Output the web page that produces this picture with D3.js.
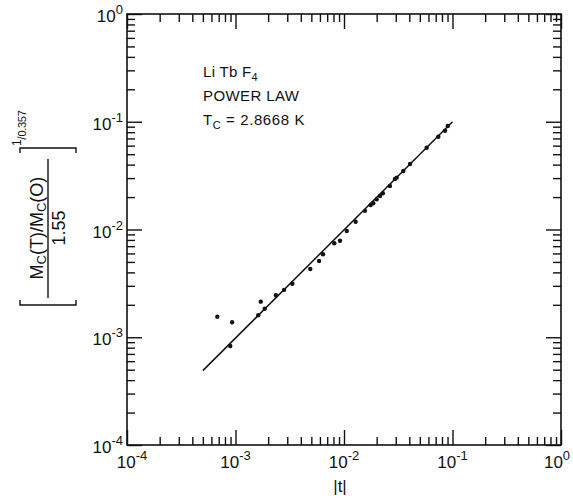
<!DOCTYPE html>
<html>
<head>
<meta charset="utf-8">
<script src="https://cdn.jsdelivr.net/npm/d3@7"></script>
<style>
  body { margin: 0; background: #fff; }
  svg text { font-family: "Liberation Sans", Arial, sans-serif; fill: #111; }
</style>
</head>
<body>
<script>
// reduced temperature |t| and scaled magnetisation
const tVals = [6.8e-4, 9.3e-4, 8.95e-4, 1.62e-3, 1.71e-3, 1.86e-3, 2.36e-3, 2.8e-3, 3.34e-3,
  4.89e-3, 5.89e-3, 6.4e-3, 8.14e-3, 9.19e-3, 1.06e-2, 1.28e-2, 1.56e-2, 1.76e-2, 1.86e-2,
  2.0e-2, 2.15e-2, 2.28e-2, 2.65e-2, 2.95e-2, 3.06e-2, 3.52e-2, 4.06e-2, 5.78e-2, 7.4e-2,
  8.53e-2, 9.04e-2]
const mVals = [1.55e-3, 1.38e-3, 8.3e-4, 1.6e-3, 2.14e-3, 1.84e-3, 2.45e-3, 2.75e-3, 3.14e-3,
  4.3e-3, 5.1e-3, 5.89e-3, 7.45e-3, 7.87e-3, 9.69e-3, 1.18e-2, 1.49e-2, 1.69e-2, 1.75e-2,
  1.91e-2, 2.05e-2, 2.17e-2, 2.53e-2, 2.94e-2, 3.03e-2, 3.49e-2, 4.05e-2, 5.74e-2, 7.26e-2,
  8.26e-2, 9.14e-2]

// fitted power law line
const fitT = [5e-4, 0.1]
const fitM = [4.9e-4, 0.1]

// axis decades and their exponent labels
const decades = [1e-4, 1e-3, 1e-2, 1e-1, 1]
const expLabels = ["-4", "-3", "-2", "-1", "0"]

const w = 573
const h = 498
const padL = 127, padR = 561, padT = 14, padB = 445

const svg = d3.select("body")
  .append("svg")
  .attr("width", w)
  .attr("height", h)

const x = d3.scaleLog().domain([1e-4, 1]).range([padL, padR])
const y = d3.scaleLog().domain([1e-4, 1]).range([padB, padT])

// minor ticks 2..9 in each decade
const minor = []
decades.slice(0, -1).forEach(d => {
  for (let k = 2; k <= 9; k++) minor.push(d * k)
})

const major = 15
const small = 8

// ticks point inward on all four sides
function addAxis(axisFn, scale, values, size, transform) {
  svg.append("g")
    .attr("transform", transform)
    .call(axisFn(scale).tickValues(values).tickSizeInner(-size).tickSizeOuter(0).tickFormat(""))
    .call(g => g.select(".domain").remove())
    .selectAll("line")
    .attr("stroke", "#111")
    .attr("stroke-width", 1.4)
}

addAxis(d3.axisBottom, x, decades, major, `translate(0,${padB})`)
addAxis(d3.axisBottom, x, minor, small, `translate(0,${padB})`)
addAxis(d3.axisTop, x, decades, major, `translate(0,${padT})`)
addAxis(d3.axisTop, x, minor, small, `translate(0,${padT})`)
addAxis(d3.axisLeft, y, decades, major, `translate(${padL},0)`)
addAxis(d3.axisLeft, y, minor, small, `translate(${padL},0)`)
addAxis(d3.axisRight, y, decades, major, `translate(${padR},0)`)
addAxis(d3.axisRight, y, minor, small, `translate(${padR},0)`)

// frame
svg.append("rect")
  .attr("x", padL)
  .attr("y", padT)
  .attr("width", padR - padL)
  .attr("height", padB - padT)
  .attr("fill", "none")
  .attr("stroke", "#111")
  .attr("stroke-width", 1.6)

// tick labels  10^n  (first one nudged right, last one nudged left like the original)
const xShift = [5, 0, 0, 0, -4]
const xLab = svg.selectAll(".xlab")
  .data(decades)
  .enter()
  .append("text")
  .attr("class", "xlab")
  .attr("x", (d, i) => x(d) + xShift[i])
  .attr("y", 468)
  .attr("text-anchor", "middle")
  .style("font-size", "17px")
xLab.append("tspan").text("10")
xLab.append("tspan").attr("dy", -8).style("font-size", "13px").text((d, i) => expLabels[i])

const yLab = svg.selectAll(".ylab")
  .data(decades)
  .enter()
  .append("text")
  .attr("class", "ylab")
  .attr("x", 123)
  .attr("y", d => y(d) + 8)
  .attr("text-anchor", "end")
  .style("font-size", "17px")
yLab.append("tspan").text("10")
yLab.append("tspan").attr("dy", -8).style("font-size", "13px").text((d, i) => expLabels[i])

// fit line
svg.append("path")
  .datum(fitT.map((t, i) => [t, fitM[i]]))
  .attr("d", d3.line().x(d => x(d[0])).y(d => y(d[1])))
  .attr("fill", "none")
  .attr("stroke", "#111")
  .attr("stroke-width", 1.5)

// data points
svg.selectAll(".dot")
  .data(tVals)
  .enter()
  .append("circle")
  .attr("class", "dot")
  .attr("cx", d => x(d))
  .attr("cy", (d, i) => y(mVals[i]))
  .attr("r", 2.2)
  .attr("fill", "#111")

// annotation
const note = svg.append("g").style("font-size", "15px")
note.append("text").attr("x", 203).attr("y", 77).style("letter-spacing", "0.3px")
  .call(t => {
    t.append("tspan").text("Li Tb F")
    t.append("tspan").attr("dy", 4).style("font-size", "11px").text("4")
  })
note.append("text").attr("x", 203).attr("y", 101).style("letter-spacing", "0.4px").text("POWER LAW")
note.append("text").attr("x", 203).attr("y", 125).style("letter-spacing", "0.6px")
  .call(t => {
    t.append("tspan").text("T")
    t.append("tspan").attr("dy", 4).style("font-size", "11px").text("C")
    t.append("tspan").attr("dy", -4).text(" = 2.8668 K")
  })

// x title
svg.append("text")
  .attr("x", 340)
  .attr("y", 492)
  .attr("text-anchor", "middle")
  .style("font-size", "17px")
  .text("|t|")

// y title: bracketed fraction, rotated
const yt = svg.append("g").attr("transform", "translate(48,226) rotate(-90)")
const num = yt.append("text").attr("x", -2).attr("y", -5).attr("text-anchor", "middle").style("font-size", "18px")
num.append("tspan").text("M")
num.append("tspan").attr("dy", 3).style("font-size", "13px").text("C")
num.append("tspan").attr("dy", -3).text("(T)/M")
num.append("tspan").attr("dy", 3).style("font-size", "13px").text("C")
num.append("tspan").attr("dy", -3).text("(O)")
yt.append("line").attr("x1", -72).attr("x2", 67).attr("y1", 0).attr("y2", 0)
  .attr("stroke", "#111").attr("stroke-width", 1.4)
yt.append("text").attr("x", -2).attr("y", 17).attr("text-anchor", "middle").style("font-size", "18px").text("1.55")
// brackets
yt.append("path")
  .attr("d", "M-74,-28 L-79,-28 L-79,28 L-74,28 M73,-28 L78,-28 L78,28 L73,28")
  .attr("fill", "none")
  .attr("stroke", "#111")
  .attr("stroke-width", 1.4)
const sup = yt.append("text").attr("x", 80).attr("y", -22).style("font-size", "12px").style("letter-spacing", "-0.3px")
sup.append("tspan").attr("dy", -5).text("1")
sup.append("tspan").attr("dy", 5).text("/")
sup.append("tspan").style("font-size", "11px").text("0.357")
</script>
</body>
</html>
